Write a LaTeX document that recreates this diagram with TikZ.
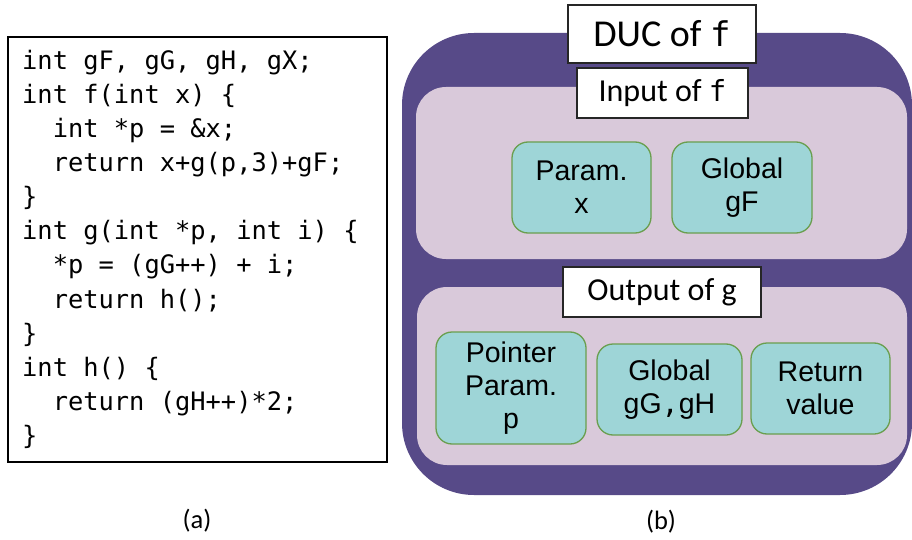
\documentclass[tikz,border=0pt]{standalone}
\usepackage{fontspec}
\setmainfont{Carlito}
\newfontfamily\codefont{DejaVu Sans Mono}
\newfontfamily\arialfont{Liberation Sans}
\definecolor{duc}{RGB}{87,74,136}
\definecolor{panel}{RGB}{217,201,218}
\definecolor{tealbox}{RGB}{158,213,215}
\definecolor{tealedge}{RGB}{106,158,78}
\tikzset{
  codeline/.style={anchor=base west, inner sep=0pt, font=\codefont\fontsize{25.4}{30}\selectfont},
  titlebox/.style={draw=black!85, fill=white, line width=1.2pt, inner sep=0pt},
  itembox/.style={draw=tealedge, fill=tealbox, line width=1.3pt, rounded corners=16pt, inner sep=0pt, align=center, font=\arialfont\fontsize{28.5}{33}\selectfont},
  caption/.style={font=\fontsize{26.5}{30}\selectfont, inner sep=0pt}
}
\newcommand{\cf}[1]{{\codefont\fontsize{#1}{#1}\selectfont f}}
\begin{document}
\begin{tikzpicture}[x=1pt,y=-1pt]
\useasboundingbox (0,0) rectangle (912,540);
% (a) code
\node[draw=black, line width=1.2pt, minimum width=379pt, minimum height=425pt, inner sep=0pt] (codebox) at (197.5,249.5) {};
\node[codeline] (c1) at (22,69.3) {int gF, gG, gH, gX;};
\node[codeline] (c2) at (22,103.4) {int f(int x) \{};
\node[codeline] (c3) at (22,137.5) {\phantom{xx}int *p = \&x;};
\node[codeline] (c4) at (22,171.6) {\phantom{xx}return x+g(p,3)+gF;};
\node[codeline] (c5) at (22,205.7) {\}};
\node[codeline] (c6) at (22,239.8) {int g(int *p, int i) \{};
\node[codeline] (c7) at (22,273.9) {\phantom{xx}*p = (gG++) + i;};
\node[codeline] (c8) at (22,308.0) {\phantom{xx}return h();};
\node[codeline] (c9) at (22,342.1) {\}};
\node[codeline] (c10) at (22,376.2) {int h() \{};
\node[codeline] (c11) at (22,410.3) {\phantom{xx}return (gH++)*2;};
\node[codeline] (c12) at (22,444.4) {\}};
\node[caption] (capa) at (197,521) {(a)};
% (b) DUC
\fill[duc, rounded corners=72pt] (402,33) rectangle (912,495);
\fill[panel, rounded corners=30pt] (416,87) rectangle (907,259);
\fill[panel, rounded corners=30pt] (417,287) rectangle (907,465);
\node[titlebox, minimum width=188pt, minimum height=58pt, font=\fontsize{38}{42}\selectfont] (duc) at (662,34) {DUC of \cf{34}};
\node[titlebox, minimum width=171pt, minimum height=50pt, font=\fontsize{32}{36}\selectfont] (inp) at (662.5,93) {Input of \cf{29}};
\node[titlebox, minimum width=198pt, minimum height=50pt, font=\fontsize{32}{36}\selectfont] (outp) at (662,292) {Output of g};
\node[itembox, minimum width=139pt, minimum height=91pt] (px) at (581.5,187.5) {Param.\\x};
\node[itembox, minimum width=140pt, minimum height=91pt] (gf) at (742,187.5) {Global\\gF};
\node[itembox, minimum width=150pt, minimum height=112pt] (pp) at (511,388) {Pointer\\Param.\\p};
\node[itembox, minimum width=145pt, minimum height=91pt] (gg) at (669.5,389.5) {Global\\gG{\codefont,}gH};
\node[itembox, minimum width=139pt, minimum height=91pt] (rv) at (820.5,388.5) {Return\\value};
\node[caption] (capb) at (661,522) {(b)};
\end{tikzpicture}
\end{document}
